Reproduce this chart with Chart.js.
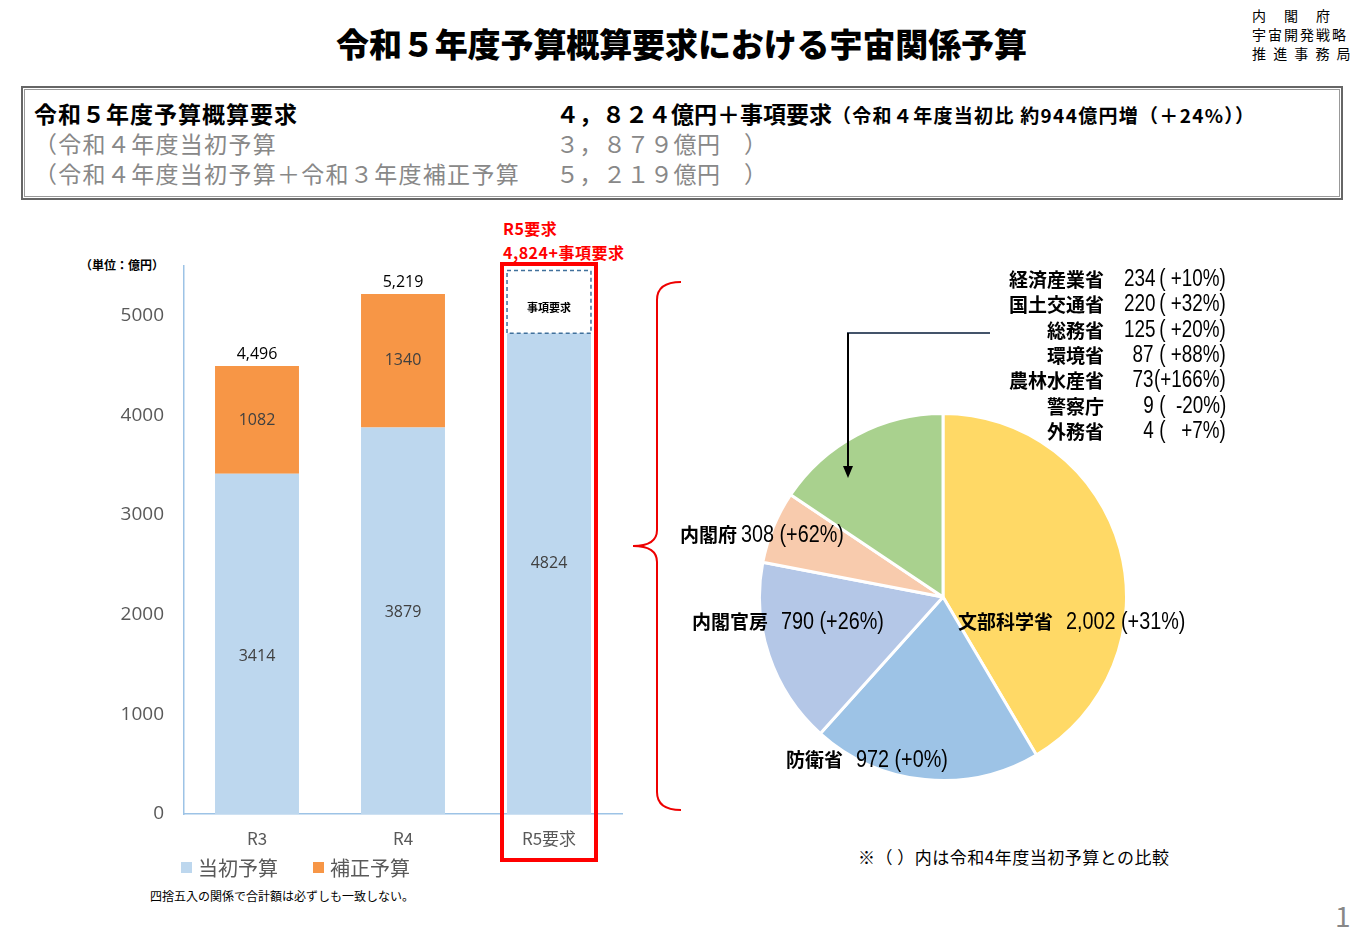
<!DOCTYPE html>
<html><head><meta charset="utf-8">
<script src="https://cdn.jsdelivr.net/npm/chart.js@4"></script>
<style>
body{margin:0;width:1363px;height:936px;background:#fff;font-family:"Noto Sans CJK JP","Noto Sans",sans-serif;position:relative;overflow:hidden}
.a{position:absolute;white-space:nowrap}
.n{display:inline-block;font-family:'Liberation Sans',sans-serif;font-weight:normal;transform:scaleX(0.82);transform-origin:left center}
</style></head><body>
<div class="a" style="left:336px;top:19px;font-size:33px;font-weight:900;letter-spacing:-0.1px">令和５年度予算概算要求における宇宙関係予算</div>
<div class="a" style="left:1252px;top:6px;font-size:14px;line-height:19px;letter-spacing:2px">内　閣　府<br>宇宙開発戦略<br>推 進 事 務 局</div>
<div class="a" style="left:21px;top:86px;width:1318px;height:110px;border:2px solid #666;box-shadow:inset 0 0 0 1px #fff,inset 0 0 0 2px #999"></div>
<div class="a" style="left:34px;top:98px;font-size:23px;font-weight:bold;line-height:30px;letter-spacing:1px">令和５年度予算概算要求</div>
<div class="a" style="left:34px;top:128px;font-size:23px;color:#888;line-height:30px;letter-spacing:1.3px">（令和４年度当初予算</div>
<div class="a" style="left:34px;top:158px;font-size:23px;color:#888;line-height:30px;letter-spacing:1.3px">（令和４年度当初予算＋令和３年度補正予算</div>
<div class="a" style="left:556px;top:98px;font-size:23px;font-weight:bold;line-height:30px">４，８２４億円＋事項要求<span style="font-size:19px;letter-spacing:1.3px">（令和４年度当初比 約944億円増（＋24%））</span></div>
<div class="a" style="left:556px;top:128px;font-size:23px;color:#888;line-height:30px;letter-spacing:0.5px">３，８７９億円　）</div>
<div class="a" style="left:556px;top:158px;font-size:23px;color:#888;line-height:30px;letter-spacing:0.5px">５，２１９億円　）</div>
<div class="a" style="left:503px;top:216px;font-size:16px;font-weight:bold;color:#f00;line-height:24px;letter-spacing:0.5px">R5要求<br>4,824+事項要求</div>
<div class="a" style="left:80px;top:256px;font-size:12px;font-weight:bold">（単位：億円）</div>
<div class="a" style="left:150px;top:887px;font-size:12px">四捨五入の関係で合計額は必ずしも一致しない。</div>
<div class="a" style="left:858px;top:844px;font-size:17px;letter-spacing:0.5px">※（ ）内は令和4年度当初予算との比較</div>
<div class="a" style="left:1335px;top:895px;font-size:28px;color:#888">1</div>
<canvas id="bar" class="a" style="left:60px;top:239px;width:600px;height:666px"></canvas>
<canvas id="pie" class="a" style="left:758px;top:412px;width:370px;height:370px"></canvas>
<svg class="a" style="left:0;top:0" width="1363" height="936">
<path d="M681,282 Q657,282 657,300 L657,530 Q657,546 633,546 Q657,546 657,562 L657,792 Q657,810 681,810" fill="none" stroke="#e00" stroke-width="2"/>
<line x1="847" y1="333" x2="990" y2="333" stroke="#44546a" stroke-width="2"/>
<line x1="848" y1="333" x2="848" y2="468" stroke="#000" stroke-width="2"/>
<polygon points="843,466 853,466 848,478" fill="#000"/>
</svg>
<div id="labels"></div>
<script>
const categories=["R3","R4","R5要求"];
const initialBudget=[3414,3879,4824];
const supplementary=[1082,1340,0];
const totals=["4,496","5,219",""];
const itemRequest=[0,0,630];
const yTicks=[0,1000,2000,3000,4000,5000];
const ministries=["文部科学省","防衛省","内閣官房","内閣府","その他"];
const ministryValues=[2002,972,790,308,752];
const ministryChange=["+31%","+0%","+26%","+62%",""];
const others=["経済産業省","国土交通省","総務省","環境省","農林水産省","警察庁","外務省"];
const otherValues=[234,220,125,87,73,9,4];
const otherChange=[" ( +10%)"," ( +32%)"," ( +20%)"," ( +88%)","(+166%)"," (  -20%)"," (   +7%)"];

const lab=document.getElementById('labels');
function add(x,y,html,fs,extra){const d=document.createElement('div');d.className='a';d.style.cssText=`left:${x}px;top:${y}px;font-size:${fs}px;font-weight:bold;${extra||''}`;d.innerHTML=html;lab.appendChild(d);}
others.forEach((n,i)=>{const y=265+i*25.3;
 add(990,y,`<div style="width:114px;text-align:right">${n}</div>`,19);
 add(1117,y-1,`<div style="width:37px;text-align:right;display:inline-block"><span class="n" style="font-size:23px;transform-origin:right center">${otherValues[i]}</span></div><span class="n" style="font-size:23px;white-space:pre">${otherChange[i]}</span>`,19);
});
const fmt=v=>v.toLocaleString('en-US');
const pieLabelPos=[[958,607],[786,745],[692,607],[680,520]];
[0,1,2,3].forEach(i=>add(pieLabelPos[i][0],pieLabelPos[i][1],`${ministries[i]}${i==3?'&nbsp;':'&nbsp;&nbsp;&nbsp;'}<span class="n" style="font-size:23px;transform:scaleX(0.86)">${fmt(ministryValues[i])} (${ministryChange[i]})</span>`,19));

const barPlug={id:'bp',afterDatasetsDraw(c){const ctx=c.ctx,x=c.scales.x,y=c.scales.y;
 ctx.save();ctx.textAlign='center';ctx.textBaseline='middle';
 c.data.datasets.forEach((ds,di)=>{c.getDatasetMeta(di).data.forEach((b,i)=>{
  if(di<2&&ds.data[i]>0){ctx.fillStyle='#404040';ctx.font='16px "Open Sans"';ctx.fillText(ds.data[i],b.x,(b.y+b.base)/2+(di==0?(i==0?13:(i==1?-8:-10)):0));}
  if(di==2&&ds.data[i]>0){ctx.setLineDash([4,3]);ctx.strokeStyle='#41719c';ctx.lineWidth=1.5;ctx.strokeRect(b.x-b.width/2,b.y,b.width,b.base-b.y);ctx.setLineDash([]);
   ctx.fillStyle='#000';ctx.font='bold 11px "Noto Sans CJK JP"';ctx.fillText('事項要求',b.x,b.y+37);}
 });});
 c.getDatasetMeta(1).data.forEach((b,i)=>{if(totals[i]){ctx.fillStyle='#000';ctx.font='16px "Open Sans"';ctx.fillText(totals[i],b.x,b.y-12);}});
 const px=x.getPixelForValue(2),ty=y.getPixelForValue(5520);ctx.strokeStyle='#f00';ctx.lineWidth=4;ctx.strokeRect(px-47,ty,94,(860-239)-ty);
 ctx.textAlign='left';ctx.font='20px "Noto Sans CJK JP"';
 ctx.fillStyle='#BDD7EE';ctx.fillRect(121,623,11,11);ctx.fillStyle='#595959';ctx.fillText('当初予算',138,629);
 ctx.fillStyle='#F79646';ctx.fillRect(253,623,11,11);ctx.fillStyle='#595959';ctx.fillText('補正予算',270,629);
 ctx.restore();}};
const pad={top:18,right:38,bottom:49,left:0};
const barChart=new Chart(document.getElementById('bar'),{type:'bar',
 data:{labels:categories,datasets:[
  {label:'当初予算',data:initialBudget,backgroundColor:'#BDD7EE'},
  {label:'補正予算',data:supplementary,backgroundColor:'#F79646'},
  {label:'事項要求',data:itemRequest,backgroundColor:'#fff'}]},
 options:{responsive:false,animation:false,maintainAspectRatio:false,
  layout:{padding:pad},
  plugins:{legend:{display:false},tooltip:{enabled:false}},
  datasets:{bar:{barPercentage:0.575,categoryPercentage:1}},
  scales:{x:{stacked:true,grid:{display:false},border:{color:'#9DC3E6',width:1.5},ticks:{color:'#595959',font:{size:17,family:'Noto Sans CJK JP'},padding:6},afterFit:s=>{s.height=40}},
   y:{stacked:true,min:0,max:5500,afterBuildTicks:s=>{s.ticks=yTicks.map(v=>({value:v}))},grid:{display:false},border:{color:'#9DC3E6',width:1.5},ticks:{color:'#595959',font:{size:19,family:'Open Sans'},padding:12,callback:v=>String(v)},afterFit:s=>{s.width=124}}}},
 plugins:[barPlug]});
for(let k=0;k<3;k++){const ca=barChart.chartArea;
 const dt=(266-239)-ca.top, db=ca.bottom-(814-239);
 if(Math.abs(dt)<0.5&&Math.abs(db)<0.5)break;
 barChart.options.layout.padding={top:pad.top+=dt,right:38,bottom:pad.bottom+=db,left:0};barChart.update();}
new Chart(document.getElementById('pie'),{type:'pie',
 data:{labels:ministries,datasets:[{data:ministryValues,backgroundColor:['#FFD966','#9DC3E6','#B4C7E7','#F8CBAD','#A9D18E'],borderColor:'#fff',borderWidth:3}]},
 options:{responsive:false,animation:false,layout:{padding:0},plugins:{legend:{display:false},tooltip:{enabled:false}}}});
</script></body></html>
